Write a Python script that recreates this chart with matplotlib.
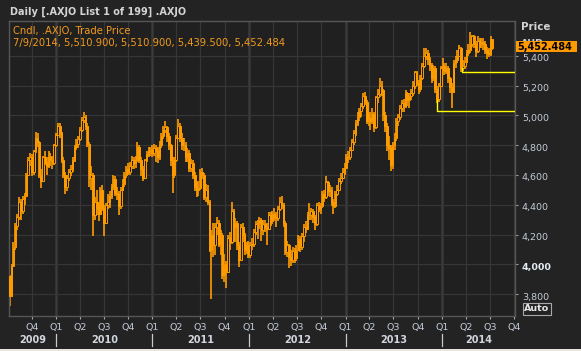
import numpy as np
import pandas as pd
import matplotlib
matplotlib.use("Agg")
import matplotlib.pyplot as plt
import matplotlib.dates as mdates
import matplotlib.transforms as mtransforms
from matplotlib.patches import Rectangle
from matplotlib.lines import Line2D

# ---------------- data (weekly candles) ----------------
close_2009 = [3790, 3990, 4120, 4260, 4320, 4420, 4360, 4440, 4460, 4600, 4700, 4720,
              4620, 4760, 4850, 4820, 4600, 4560, 4720, 4690, 4660, 4720, 4700, 4680, 4800]
high_2009 = [3930, 4000, 4150, 4280, 4340, 4450, 4440, 4460, 4480, 4610, 4720, 4750,
             4740, 4770, 4890, 4880, 4830, 4640, 4730, 4760, 4720, 4760, 4750, 4730, 4810]
low_2009 = [3720, 3780, 3980, 4100, 4230, 4300, 4300, 4340, 4400, 4450, 4590, 4660,
            4590, 4600, 4750, 4790, 4580, 4510, 4550, 4670, 4600, 4650, 4660, 4640, 4670]

close_2010 = [4870, 4930, 4880, 4700, 4600, 4520, 4580, 4620, 4640, 4700, 4790, 4810, 4840,
              4900, 4970, 4990, 4930, 4810, 4580, 4600, 4330, 4420, 4380, 4340, 4500, 4380,
              4280, 4400, 4420, 4460, 4520, 4570, 4480, 4470, 4390, 4500, 4540, 4600, 4640,
              4620, 4660, 4700, 4680, 4700, 4790, 4700, 4640, 4580, 4700, 4740, 4760, 4770, 4750]
high_2010 = [4880, 4950, 4950, 4890, 4720, 4620, 4600, 4640, 4670, 4720, 4800, 4840, 4860,
             4920, 4990, 5025, 5000, 4950, 4820, 4660, 4610, 4450, 4500, 4420, 4520, 4530,
             4400, 4410, 4470, 4490, 4540, 4600, 4590, 4520, 4490, 4520, 4570, 4620, 4660,
             4680, 4690, 4730, 4720, 4730, 4820, 4800, 4720, 4660, 4710, 4760, 4790, 4790, 4800]
low_2010 = [4790, 4860, 4850, 4680, 4580, 4470, 4490, 4560, 4590, 4620, 4690, 4770, 4780,
            4830, 4890, 4950, 4900, 4790, 4520, 4500, 4190, 4300, 4330, 4290, 4330, 4360,
            4190, 4270, 4370, 4380, 4440, 4500, 4460, 4430, 4330, 4370, 4490, 4520, 4580,
            4600, 4600, 4640, 4640, 4650, 4690, 4680, 4590, 4560, 4570, 4690, 4720, 4730, 4720]

close_2011 = [4780, 4760, 4720, 4800, 4860, 4900, 4920, 4860, 4800, 4700, 4600, 4700,
              4850, 4930, 4850, 4800, 4800, 4720, 4750, 4650, 4680, 4600, 4520, 4500, 4510,
              4620, 4600, 4450, 4500, 4420, 4100, 4200, 4130, 4250, 4280, 4140, 4200, 3930, 4000,
              3950, 4180, 4150, 4360, 4250, 4280, 4130, 4030, 4250, 4200, 4100, 4130, 4060]
high_2011 = [4810, 4800, 4790, 4830, 4880, 4930, 4960, 4930, 4880, 4810, 4720, 4720,
             4870, 4975, 4950, 4880, 4850, 4820, 4780, 4770, 4710, 4700, 4620, 4550, 4560,
             4640, 4650, 4610, 4540, 4530, 4430, 4230, 4280, 4280, 4320, 4300, 4230, 4210, 4070,
             4020, 4200, 4220, 4420, 4370, 4310, 4290, 4150, 4270, 4280, 4210, 4150, 4160]
low_2011 = [4730, 4690, 4680, 4700, 4780, 4840, 4880, 4820, 4770, 4660, 4480, 4580,
            4690, 4840, 4820, 4770, 4760, 4690, 4690, 4620, 4620, 4570, 4490, 4450, 4460,
            4500, 4570, 4430, 4420, 4400, 4080, 3765, 4050, 4060, 4200, 4120, 4060, 3900, 3880,
            3840, 3940, 4100, 4140, 4150, 4150, 4100, 3985, 4020, 4150, 4060, 4070, 4040]

close_2012 = [4130, 4140, 4220, 4270, 4280, 4300, 4230, 4270, 4250, 4240, 4330, 4290, 4340,
              4320, 4310, 4370, 4420, 4400, 4280, 4080, 4130, 4050, 4030, 4090, 4040, 4100,
              4170, 4120, 4190, 4250, 4240, 4330, 4330, 4360, 4320, 4270, 4400, 4370, 4390,
              4470, 4450, 4550, 4490, 4500, 4420, 4390, 4470, 4500, 4560, 4580, 4620, 4650]
high_2012 = [4150, 4180, 4240, 4290, 4300, 4320, 4310, 4300, 4300, 4280, 4350, 4350, 4360,
             4380, 4350, 4390, 4455, 4460, 4410, 4290, 4160, 4140, 4100, 4120, 4110, 4130,
             4200, 4190, 4210, 4270, 4290, 4350, 4410, 4380, 4370, 4330, 4410, 4420, 4410,
             4490, 4500, 4590, 4560, 4530, 4520, 4440, 4490, 4530, 4580, 4610, 4650, 4680]
low_2012 = [4040, 4100, 4120, 4200, 4170, 4240, 4160, 4200, 4220, 4130, 4230, 4260, 4270,
            4290, 4250, 4290, 4360, 4370, 4250, 4060, 4050, 3975, 3990, 4010, 4010, 4020,
            4090, 4080, 4100, 4150, 4210, 4230, 4300, 4300, 4280, 4230, 4260, 4350, 4340,
            4380, 4420, 4440, 4460, 4450, 4390, 4340, 4380, 4460, 4490, 4540, 4570, 4600]

close_2013 = [4720, 4720, 4770, 4820, 4880, 4950, 4990, 5030, 5060, 5130, 5090, 4960, 4980,
              4960, 5010, 4920, 5120, 5140, 5200, 5170, 5000, 4930, 4800, 4780, 4670, 4800,
              4850, 4960, 4990, 5050, 5080, 5060, 5150, 5100, 5130, 5150, 5200, 5290, 5220,
              5180, 5250, 5330, 5400, 5420, 5380, 5340, 5250, 5320, 5180, 5110, 5200, 5320]
high_2013 = [4740, 4760, 4790, 4840, 4900, 4970, 5020, 5050, 5080, 5150, 5160, 5100, 5010,
             5020, 5050, 5020, 5130, 5180, 5250, 5230, 5180, 5020, 4950, 4860, 4800, 4820,
             4880, 4980, 5010, 5070, 5100, 5110, 5170, 5160, 5150, 5180, 5230, 5300, 5300,
             5240, 5270, 5350, 5450, 5450, 5440, 5390, 5350, 5340, 5330, 5200, 5220, 5330]
low_2013 = [4640, 4680, 4700, 4760, 4800, 4860, 4930, 4960, 4990, 5040, 5070, 4940, 4930,
            4900, 4940, 4890, 4910, 5080, 5120, 5130, 4960, 4890, 4760, 4700, 4625, 4640,
            4770, 4830, 4930, 4970, 5020, 5020, 5050, 5060, 5050, 5100, 5130, 5180, 5200,
            5140, 5160, 5240, 5320, 5370, 5340, 5300, 5220, 5230, 5150, 5085, 5090, 5190]

close_2014 = [5330, 5300, 5320, 5250, 5190, 5160, 5350, 5370, 5400, 5450, 5320, 5330, 5360,
              5420, 5440, 5480, 5530, 5480, 5430, 5500, 5480, 5490, 5480, 5440, 5420, 5410, 5510]
high_2014 = [5385, 5350, 5350, 5330, 5260, 5220, 5370, 5400, 5440, 5470, 5460, 5370, 5390,
             5440, 5480, 5560, 5540, 5540, 5500, 5530, 5520, 5520, 5520, 5500, 5460, 5450, 5530]
low_2014 = [5300, 5270, 5280, 5220, 5150, 5050, 5150, 5320, 5350, 5390, 5290, 5300, 5310,
            5350, 5400, 5420, 5460, 5450, 5390, 5420, 5450, 5450, 5440, 5410, 5380, 5390, 5400]
first_open = 3920.0

last_date = "2014-07-09"
last_ohlc = [5510.900, 5510.900, 5439.500, 5452.484]

hline_values = [5030, 5290]
hline_tops = [5100, 5320]
hline_starts = ["2013-12-12", "2014-03-17"]

y_ticks = [3800, 4000, 4200, 4400, 4600, 4800, 5000, 5200, 5400]
year_labels = ["2009", "2010", "2011", "2012", "2013", "2014"]

title_text = "Daily [.AXJO List 1 of 199] .AXJO"
legend_line1 = "Cndl, .AXJO, Trade Price"
legend_line2 = "7/9/2014, 5,510.900, 5,510.900, 5,439.500, 5,452.484"
last_price_label = "5,452.484"

# ---------------- styling ----------------
W, H = 581, 351
FIG_BG = "#232323"
AX_BG = "#202020"
GRID = "#363636"
ORANGE = "#ff9c00"
TICK_TXT = "#c3ccd8"
plt.rcParams["font.family"] = ["DejaVu Sans"]

fig = plt.figure(figsize=(W / 100, H / 100), dpi=100, facecolor=FIG_BG)


def fx(px):
    return px / W


def fy(py):
    return 1 - py / H


ax = fig.add_axes([fx(9), fy(316), (515 - 9) / W, (316 - 21.3) / H])
ax.set_facecolor(AX_BG)

dates = pd.date_range("2009-07-10", "2014-07-04", freq="W-FRI")
closes = close_2009 + close_2010 + close_2011 + close_2012 + close_2013 + close_2014
highs = high_2009 + high_2010 + high_2011 + high_2012 + high_2013 + high_2014
lows = low_2009 + low_2010 + low_2011 + low_2012 + low_2013 + low_2014
assert len(dates) == len(closes) == len(highs) == len(lows)
opens = [first_open] + closes[:-1]

xs = list(mdates.date2num(dates.to_pydatetime()))
xs.append(mdates.date2num(pd.Timestamp(last_date).to_pydatetime()))
opens = np.array(opens + [last_ohlc[0]], float)
highs = np.array(highs + [last_ohlc[1]], float)
lows = np.array(lows + [last_ohlc[2]], float)
closes = np.array(closes + [last_ohlc[3]], float)
xs = np.array(xs)
highs = np.maximum(highs, np.maximum(opens, closes))
lows = np.minimum(lows, np.minimum(opens, closes))

x_left = mdates.date2num(pd.Timestamp("2009-07-07").to_pydatetime())
x_right = mdates.date2num(pd.Timestamp("2014-10-04").to_pydatetime())
ax.set_xlim(x_left, x_right)
ax.set_ylim(3654, 5631)

# grid
q_dates = pd.date_range("2009-10-01", "2014-10-01", freq="QS")
q_x = mdates.date2num(q_dates.to_pydatetime())
for d, xq in zip(q_dates, q_x):
    if d.month == 1:
        ax.axvline(xq, color="#3a3a3a", lw=1.8, zorder=0)
    else:
        ax.axvline(xq, color=GRID, lw=0.9, zorder=0)
for yt in y_ticks:
    ax.axhline(yt, color=GRID, lw=0.9, zorder=0)

# candles
up = closes >= opens
ax.vlines(xs, lows, highs, color=ORANGE, lw=1.2, zorder=2)
ax.bar(xs[~up], (closes - opens)[~up], bottom=opens[~up], width=6.0,
       color=ORANGE, edgecolor=ORANGE, lw=0.7, zorder=3)
ax.bar(xs[up], (closes - opens)[up], bottom=opens[up], width=6.0,
       color=AX_BG, edgecolor=ORANGE, lw=0.7, zorder=3)

# yellow horizontal lines
for v, t, s in zip(hline_values, hline_tops, hline_starts):
    xs0 = mdates.date2num(pd.Timestamp(s).to_pydatetime())
    ax.plot([xs0, xs0, x_right], [t, v, v], color="#ffff00", lw=1.0, zorder=4)

# spines
for sp in ax.spines.values():
    sp.set_color("#565656")
    sp.set_linewidth(1.0)

# y axis on right
ax.yaxis.tick_right()
ax.set_yticks(y_ticks)
ax.set_yticklabels([f"{v:,}" for v in y_ticks])
ax.tick_params(axis="y", length=2.5, color="#9a9a9a", labelcolor=TICK_TXT,
               labelsize=6.8, pad=2.5, width=0.8)
off = mtransforms.ScaledTranslation(0, -2 / 100, fig.dpi_scale_trans)
for lab, v in zip(ax.get_yticklabels(), y_ticks):
    lab.set_transform(lab.get_transform() + off)
    if v == 4000:
        lab.set_fontweight("bold")
        lab.set_color("#e6ecf4")

# x axis quarters
ax.set_xticks(q_x)
ax.set_xticklabels([f"Q{(d.month - 1) // 3 + 1}" for d in q_dates])
ax.tick_params(axis="x", length=2.5, color="#a8a8a8", labelcolor=TICK_TXT,
               labelsize=6.8, pad=2.5, width=0.8)

# year labels and separators
for yl in year_labels:
    y0 = mdates.date2num(pd.Timestamp(f"{yl}-01-01").to_pydatetime())
    y1 = mdates.date2num(pd.Timestamp(f"{int(yl) + 1}-01-01").to_pydatetime())
    a, b = max(y0, x_left), min(y1, x_right)
    xc_px = 9 + (0.5 * (a + b) - x_left) / (x_right - x_left) * (515 - 9)
    fig.text(fx(xc_px), fy(340), yl, ha="center", va="center", fontsize=7,
             fontweight="bold", color="#d2d6dc")
    if y0 > x_left:
        xp = 9 + (y0 - x_left) / (x_right - x_left) * (515 - 9)
        fig.add_artist(Line2D([fx(xp), fx(xp)], [fy(334), fy(346)], color="#c8c8c8",
                              lw=0.9, transform=fig.transFigure))

# texts
fig.text(fx(10), fy(12), title_text, ha="left", va="center", fontsize=7.0,
         fontweight="bold", color="#d4d4d4")
fig.text(fx(13), fy(31), legend_line1, ha="left", va="center", fontsize=7.2, color="#f29a1c")
fig.text(fx(13), fy(43), legend_line2, ha="left", va="center", fontsize=7.2, color="#f29a1c")
fig.text(fx(521), fy(27.5), "Price", ha="left", va="center", fontsize=7.4,
         fontweight="bold", color="#d4d4d4")
fig.text(fx(521), fy(44), "AUD", ha="left", va="center", fontsize=7,
         fontweight="bold", color="#bfc6d0")

# last price box
fig.add_artist(Rectangle((fx(516), fy(52.3)), (577 - 516) / W, 11 / H,
                         transform=fig.transFigure, facecolor="#ff9900",
                         edgecolor="none", zorder=5))
fig.text(fx(517), fy(47), last_price_label, ha="left", va="center", fontsize=7,
         fontweight="bold", color="#000000", zorder=6)

# Auto button
fig.add_artist(Rectangle((fx(523), fy(314.5)), 28 / W, 11.5 / H,
                         transform=fig.transFigure, facecolor="none",
                         edgecolor="#a8a8a8", lw=0.8))
fig.text(fx(537), fy(308.7), "Auto", ha="center", va="center", fontsize=6.8,
         fontweight="bold", color="#e6e6e6")

# light strip at bottom edge
fig.add_artist(Rectangle((0, 0), 1, 2.5 / H, transform=fig.transFigure,
                         facecolor="#e8e6dc", edgecolor="none"))

fig.savefig("out.png", dpi=100, facecolor=FIG_BG)
